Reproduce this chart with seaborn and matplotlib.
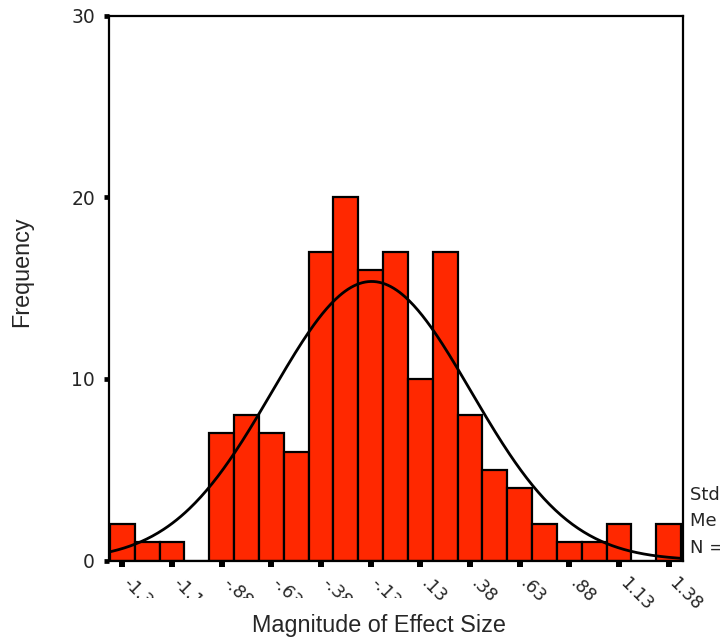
import numpy as np
import pandas as pd
import matplotlib
matplotlib.use("Agg")
import matplotlib.pyplot as plt
import seaborn as sns
from matplotlib.transforms import Bbox

# ---- data ----
bin_centers = [-1.375, -1.25, -1.125, -1.0, -0.875, -0.75, -0.625, -0.5, -0.375, -0.25,
               -0.125, 0.0, 0.125, 0.25, 0.375, 0.5, 0.625, 0.75, 0.875, 1.0,
               1.125, 1.25, 1.375]
counts = [2, 1, 1, 0, 7, 8, 7, 6, 17, 20,
          16, 17, 10, 17, 8, 5, 4, 2, 1, 1,
          2, 0, 2]
tick_values = [-1.375, -1.125, -0.875, -0.625, -0.375, -0.125,
               0.125, 0.375, 0.625, 0.875, 1.125, 1.375]
tick_labels = ["-1.38", "-1.13", "-.88", "-.63", "-.38", "-.13",
               ".13", ".38", ".63", ".88", "1.13", "1.38"]
y_ticks = [0, 10, 20, 30]
y_labels = ["0", "10", "20", "30"]
stat_mean = -0.12
stat_sd = 0.50
stat_n = 154
stat_lines = ["Std. Dev = .50", "Mean = -.12", "N = 154.00"]

bar_color = "#ff2800"

sns.set_style("white")
plt.rcParams["font.family"] = ["DejaVu Sans"]

W, H = 720, 639
fig = plt.figure(figsize=(W / 100, H / 100), dpi=100)
ax_left, ax_right, ax_top, ax_bottom = 109.0, 683.0, 15.5, 560.5
ax = fig.add_axes([ax_left / W, (H - ax_bottom) / H,
                   (ax_right - ax_left) / W, (ax_bottom - ax_top) / H])

bw = bin_centers[1] - bin_centers[0]
edges = [c - bw / 2 for c in bin_centers] + [bin_centers[-1] + bw / 2]
df = pd.DataFrame({"x": bin_centers, "w": counts})
sns.histplot(data=df, x="x", weights="w", bins=edges, color=bar_color,
             edgecolor="black", linewidth=1.6, alpha=1.0, ax=ax)

# fitted normal curve from the displayed statistics
xs = np.linspace(edges[0] + 0.005, edges[-1], 400)
ys = stat_n * bw / (stat_sd * np.sqrt(2 * np.pi)) * np.exp(-0.5 * ((xs - stat_mean) / stat_sd) ** 2)
sns.lineplot(x=xs, y=ys, color="black", linewidth=2.0, ax=ax)

ax.set_xlim(-1.442, 1.4475)
ax.set_ylim(0, 30)

ax.set_xticks(tick_values)
ax.set_xticklabels(tick_labels, rotation=-45, ha="left", va="baseline",
                   rotation_mode="anchor", fontsize=12.5)
ax.set_yticks(y_ticks)
ax.set_yticklabels(y_labels, fontsize=13.5)
ax.tick_params(axis="x", bottom=True, direction="out", length=4.3, width=4.3,
               color="black", pad=12.5)
ax.tick_params(axis="y", left=True, direction="out", length=3.8, width=3.4,
               color="black", pad=6.3)

for s in ax.spines.values():
    s.set_color("black")
    s.set_linewidth(1.6)
    s.set_visible(True)

ax.set_xlabel("")
ax.set_ylabel("")
fig.text(379 / W, 1 - 632 / H, "Magnitude of Effect Size", ha="center", va="baseline",
         fontsize=16.8, family=["Liberation Sans", "DejaVu Sans"])
fig.text(22 / W, 1 - 272 / H, "Frequency", ha="center", va="center", rotation=90,
         fontsize=16.8, family=["Liberation Sans", "DejaVu Sans"])

stat_texts = []
for i, line in enumerate(stat_lines):
    t = fig.text(690 / W, 1 - (495 + 26.5 * i) / H, line, ha="left", va="center",
                 fontsize=13)
    stat_texts.append(t)
# the reference panel is cut by the image edge just after "Me"
stat_texts[1].set_clip_box(Bbox.from_extents(0, 0, 717, H))
stat_texts[1].set_clip_on(True)

# clip the long negative tick labels like the reference does
clip = Bbox.from_extents(0, H - 598, W, H)
for lab in ax.get_xticklabels():
    if lab.get_text().startswith("-"):
        lab.set_clip_box(clip)
        lab.set_clip_on(True)

fig.savefig("out.png", dpi=100)
